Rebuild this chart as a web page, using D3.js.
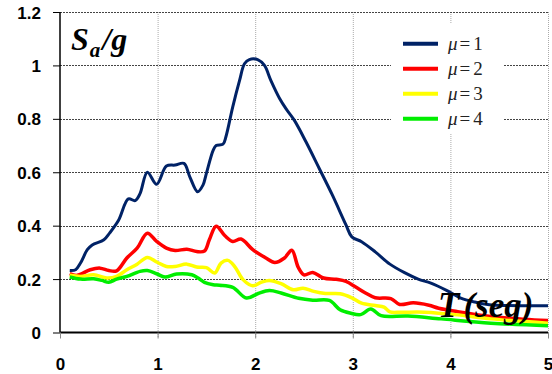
<!DOCTYPE html>
<html>
<head>
<meta charset="utf-8">
<script src="https://cdn.jsdelivr.net/npm/d3@7"></script>
<style>
	html, body { margin: 0; padding: 0; background: #fff; }
	svg { display: block; }
</style>
</head>
<body>
<script>
(function() {

"use strict";

const X_TICKS = [0, 1, 2, 3, 4, 5];
const Y_TICKS = [0, 0.2, 0.4, 0.6, 0.8, 1, 1.2];
const Y_TICK_LABELS = ["0", "0.2", "0.4", "0.6", "0.8", "1", "1.2"];

const SERIES_NAMES = ["1", "2", "3", "4"];
const SERIES_COLORS = ["#002266", "#ff0000", "#ffff00", "#00ee00"];

const SANS = "'Liberation Sans', Arial, sans-serif";
const SERIF = "'Liberation Serif', 'Times New Roman', serif";

// periods (s) and Sa/g, one pair of arrays per ductility
const T_MU1 = [0.1, 0.16, 0.21, 0.28, 0.33, 0.45, 0.51, 0.6, 0.7, 0.77, 0.82, 0.895, 0.99, 1.09, 1.18, 1.27, 1.33, 1.41, 1.465, 1.5, 1.57, 1.6, 1.67, 1.7, 1.77, 1.84, 1.89, 1.94, 2.03, 2.095, 2.16, 2.25, 2.315, 2.4, 2.52, 2.655, 2.79, 2.93, 2.99, 3.09, 3.23, 3.38, 3.53, 3.67, 3.8, 3.96, 4.1, 4.25, 4.4, 4.6, 5.0];
const SA_MU1 = [0.232, 0.235, 0.26, 0.31, 0.328, 0.347, 0.373, 0.42, 0.5, 0.494, 0.52, 0.6, 0.555, 0.623, 0.627, 0.633, 0.583, 0.527, 0.552, 0.596, 0.683, 0.7, 0.705, 0.733, 0.845, 0.944, 1.006, 1.022, 1.021, 1.0, 0.944, 0.876, 0.838, 0.795, 0.714, 0.615, 0.515, 0.403, 0.358, 0.34, 0.302, 0.256, 0.224, 0.2, 0.185, 0.158, 0.13, 0.114, 0.104, 0.101, 0.1];

const T_MU2 = [0.1, 0.175, 0.31, 0.41, 0.5, 0.58, 0.685, 0.79, 0.895, 0.99, 1.09, 1.18, 1.3, 1.4, 1.48, 1.53, 1.6, 1.69, 1.77, 1.855, 1.975, 2.11, 2.2, 2.3, 2.375, 2.44, 2.5, 2.59, 2.7, 2.83, 2.93, 3.03, 3.13, 3.23, 3.39, 3.48, 3.62, 3.78, 3.88, 4.075, 4.415, 4.755, 5.0];
const SA_MU2 = [0.22, 0.214, 0.235, 0.241, 0.232, 0.231, 0.279, 0.316, 0.372, 0.341, 0.316, 0.307, 0.312, 0.303, 0.305, 0.347, 0.398, 0.362, 0.341, 0.35, 0.31, 0.279, 0.262, 0.279, 0.308, 0.245, 0.216, 0.225, 0.204, 0.199, 0.191, 0.17, 0.148, 0.13, 0.127, 0.105, 0.111, 0.102, 0.091, 0.078, 0.06, 0.05, 0.045];

const T_MU3 = [0.1, 0.21, 0.345, 0.48, 0.58, 0.685, 0.79, 0.895, 0.99, 1.09, 1.18, 1.3, 1.4, 1.5, 1.585, 1.65, 1.72, 1.79, 1.875, 1.975, 2.06, 2.145, 2.265, 2.39, 2.49, 2.6, 2.72, 2.87, 2.99, 3.09, 3.23, 3.32, 3.38, 3.5, 3.735, 4.075, 4.415, 5.0];
const SA_MU3 = [0.214, 0.21, 0.216, 0.204, 0.21, 0.235, 0.256, 0.281, 0.264, 0.247, 0.247, 0.256, 0.245, 0.243, 0.223, 0.26, 0.27, 0.247, 0.198, 0.175, 0.188, 0.195, 0.183, 0.16, 0.166, 0.154, 0.146, 0.145, 0.13, 0.11, 0.101, 0.095, 0.077, 0.076, 0.076, 0.066, 0.051, 0.035];

const T_MU4 = [0.1, 0.21, 0.345, 0.43, 0.5, 0.58, 0.685, 0.82, 0.895, 0.99, 1.075, 1.195, 1.35, 1.415, 1.48, 1.57, 1.635, 1.77, 1.91, 2.03, 2.145, 2.265, 2.445, 2.59, 2.76, 2.87, 2.98, 3.08, 3.185, 3.29, 3.565, 3.905, 4.415, 5.0];
const SA_MU4 = [0.208, 0.2, 0.201, 0.195, 0.188, 0.2, 0.21, 0.229, 0.232, 0.22, 0.208, 0.219, 0.216, 0.204, 0.188, 0.179, 0.177, 0.169, 0.129, 0.146, 0.157, 0.148, 0.128, 0.121, 0.12, 0.085, 0.072, 0.067, 0.088, 0.063, 0.062, 0.051, 0.035, 0.025];

const PERIODS = [T_MU1, T_MU2, T_MU3, T_MU4];
const VALUES = [SA_MU1, SA_MU2, SA_MU3, SA_MU4];

const width = 552;
const height = 374;
const margin = {top: 12, right: 4, bottom: 41.5, left: 60};

let scale = {
	x: d3.scaleLinear().domain([0, 5]).range([margin.left, width - margin.right]),
	y: d3.scaleLinear().domain([0, 1.2]).range([height - margin.bottom, margin.top]),
};

let svg = d3.select(document.body).append("svg")
	.attr("width", width)
	.attr("height", height)
	.attr("viewBox", `0 0 ${width} ${height}`);

// grid
svg.append("g")
	.attr("class", "grid x")
	.selectAll("line")
	.data(X_TICKS.slice(1))
	.join("line")
		.attr("x1", d => scale.x(d) + 0.5)
		.attr("x2", d => scale.x(d) + 0.5)
		.attr("y1", scale.y(1.2))
		.attr("y2", scale.y(0) + 5)
		.attr("stroke", "#aaa")
		.attr("stroke-dasharray", "1,1");

svg.append("g")
	.attr("class", "grid y")
	.selectAll("line")
	.data(Y_TICKS.slice(1))
	.join("line")
		.attr("x1", scale.x(0))
		.attr("x2", scale.x(5))
		.attr("y1", d => Math.round(scale.y(d)) + 0.5)
		.attr("y2", d => Math.round(scale.y(d)) + 0.5)
		.attr("stroke", "#444")
		.attr("stroke-dasharray", "2,1");

// legend box sits over the grid
svg.append("rect")
	.attr("x", 391)
	.attr("y", 23)
	.attr("width", 113)
	.attr("height", 110)
	.attr("fill", "#fff");

// series
let line = d3.line()
	.x(d => scale.x(d[0]))
	.y(d => scale.y(d[1]))
	.curve(d3.curveCatmullRom.alpha(0.5));

svg.append("g")
	.attr("class", "series")
	.selectAll("path")
	.data(VALUES.map((vals, i) => vals.map((v, j) => [PERIODS[i][j], v])))
	.join("path")
		.attr("d", line)
		.attr("fill", "none")
		.attr("stroke", (d, i) => SERIES_COLORS[i])
		.attr("stroke-width", (d, i) => i == 0 ? 3 : 3.5)
		.attr("stroke-linejoin", "round");

// axes
let axisY = svg.append("g")
	.attr("class", "axis y")
	.attr("transform", `translate(${scale.x(0)}, 0)`)
	.call(d3.axisLeft(scale.y).tickValues(Y_TICKS).tickSize(7).tickFormat((d, i) => Y_TICK_LABELS[i]));
axisY.select(".domain").attr("stroke-width", 1.5).attr("d", `M0,${scale.y(1.2)}V${scale.y(0)}`);
axisY.selectAll(".tick text")
	.attr("x", -19)
	.attr("dy", "0.36em")
	.attr("font-family", SANS)
	.attr("font-weight", "bold")
	.attr("font-size", 17)
	.attr("fill", "#000");

let axisX = svg.append("g")
	.attr("class", "axis x")
	.attr("transform", `translate(0, ${scale.y(0)})`)
	.call(d3.axisBottom(scale.x).tickValues(X_TICKS).tickSize(6).tickFormat(d3.format("d")));
axisX.select(".domain").attr("stroke-width", 2).attr("d", `M${scale.x(0)},0H${scale.x(5)}`);
axisX.selectAll(".tick line").attr("stroke", "#888");
axisX.selectAll(".tick text")
	.attr("y", 37.5)
	.attr("dy", 0)
	.attr("font-family", SANS)
	.attr("font-weight", "bold")
	.attr("font-size", 17)
	.attr("fill", "#000");

// axis titles
let titleY = svg.append("text")
	.attr("x", 71)
	.attr("y", 50)
	.attr("font-family", SERIF)
	.attr("font-weight", "bold")
	.attr("font-style", "italic")
	.attr("font-size", 32);
titleY.append("tspan").text("S");
titleY.append("tspan").attr("font-size", 21).attr("dy", 7).attr("dx", 1).text("a");
titleY.append("tspan").attr("dy", -7).attr("dx", 2).text("/g");

let titleX = svg.append("text")
	.attr("x", 438)
	.attr("y", 317)
	.attr("font-family", SERIF)
	.attr("font-weight", "bold")
	.attr("font-style", "italic")
	.attr("font-size", 35);
titleX.append("tspan").text("T");
titleX.append("tspan").attr("dx", 4).text("(seg)");

// legend
let legend = svg.append("g")
	.attr("class", "legend")
	.selectAll("g")
	.data(SERIES_NAMES)
	.join("g")
		.attr("transform", (d, i) => `translate(403, ${43.8 + i * 25})`);

legend.append("line")
	.attr("x1", 0)
	.attr("x2", 35)
	.attr("stroke", (d, i) => SERIES_COLORS[i])
	.attr("stroke-width", 4);

let label = legend.append("text")
	.attr("x", 45)
	.attr("dy", "0.35em")
	.attr("font-family", SERIF)
	.attr("font-size", 19)
	.attr("fill", "#222");
label.append("tspan").attr("font-style", "italic").text("\u03bc");
label.append("tspan").attr("dx", 2).text("=");
label.append("tspan").attr("dx", 3).text(d => d);

})();
</script>
</body>
</html>
